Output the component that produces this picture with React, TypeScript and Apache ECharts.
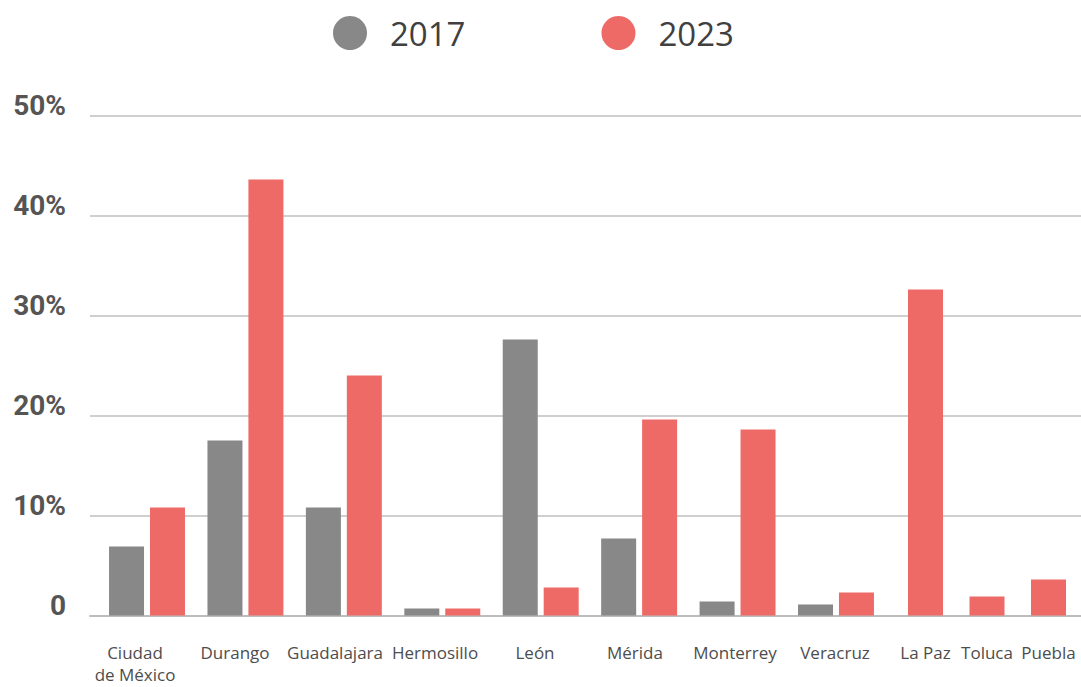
import React, { useEffect, useRef } from "react";
import * as echarts from "echarts";

const categories = [
  "Ciudad\nde México",
  "Durango",
  "Guadalajara",
  "Hermosillo",
  "León",
  "Mérida",
  "Monterrey",
  "Veracruz",
  "La Paz",
  "Toluca",
  "Puebla",
];
const values2017: (number | null)[] = [6.9, 17.5, 10.8, 0.7, 27.6, 7.7, 1.4, 1.1, null, null, null];
const values2023: number[] = [10.8, 43.6, 24.0, 0.7, 2.8, 19.6, 18.6, 2.3, 32.6, 1.9, 3.6];
const yTicks = [0, 10, 20, 30, 40, 50];
const seriesNames = ["2017", "2023"];

const GRAY = "#888888";
const RED = "#ee6a67";

export default function App() {
  const ref = useRef<HTMLDivElement>(null);
  useEffect(() => {
    if (!ref.current) return;
    document.body.style.margin = "0";
    document.body.style.overflow = "hidden";
    const chart = echarts.init(ref.current, undefined, { renderer: "svg" });
    const split = 8;
    const catA = categories.slice(0, split);
    const catB = categories.slice(split);
    const top = 115.5;
    const bottom = 71.5;
    const yMax = yTicks[yTicks.length - 1];
    const hiddenY = (gi: number) => ({
      gridIndex: gi,
      type: "value",
      min: 0,
      max: yMax,
      interval: 10,
      show: false,
      splitLine: { show: false },
    });
    const catLabel = {
      fontFamily: "Open Sans",
      fontSize: 17,
      color: "#4d4d4d",
      lineHeight: 22,
      margin: 26,
      interval: 0,
    };
    chart.setOption({
      animation: false,
      legend: {
        data: seriesNames,
        icon: "circle",
        left: 333,
        top: 16,
        padding: 0,
        itemWidth: 34,
        itemHeight: 34,
        itemGap: 136,
        textStyle: {
          fontFamily: "Open Sans",
          fontSize: 33,
          color: "#404040",
          padding: [0, 0, 0, 18],
        },
      },
      grid: [
        { left: 90, right: 0, top, bottom },
        { left: 97.8, width: 787.4, top, bottom },
        { left: 894.75, width: 184.5, top, bottom },
        { left: 85, width: 800, top, bottom },
      ],
      xAxis: [
        {
          gridIndex: 0,
          type: "category",
          data: [""],
          axisLabel: { show: false },
          axisTick: { show: false },
          axisLine: { show: true, lineStyle: { color: "#bdbdbd", width: 2 } },
        },
        {
          gridIndex: 1,
          type: "category",
          data: catA,
          show: false,
        },
        {
          gridIndex: 2,
          type: "category",
          data: catB,
          axisLine: { show: false },
          axisTick: { show: false },
          axisLabel: catLabel,
        },
        {
          gridIndex: 3,
          type: "category",
          data: catA,
          axisLine: { show: false },
          axisTick: { show: false },
          axisLabel: catLabel,
        },
      ],
      yAxis: [
        {
          gridIndex: 0,
          type: "value",
          min: 0,
          max: yMax,
          interval: 10,
          axisLine: { show: false },
          axisTick: { show: false },
          splitLine: { show: true, lineStyle: { color: "#cfcfcf", width: 2 } },
          axisLabel: {
            margin: 24,
            fontFamily: "Roboto",
            fontWeight: "bold",
            fontSize: 28,
            color: "#555555",
            verticalAlign: "bottom",
            lineHeight: 20,
            formatter: (v: number) => (v === 0 ? "0" : v + "%"),
          },
        },
        hiddenY(1),
        hiddenY(2),
        hiddenY(3),
      ],
      series: [
        {
          name: seriesNames[0],
          type: "bar",
          xAxisIndex: 1,
          yAxisIndex: 1,
          data: values2017.slice(0, split),
          barWidth: 35,
          barGap: "17%",
          itemStyle: { color: GRAY },
        },
        {
          name: seriesNames[1],
          type: "bar",
          xAxisIndex: 1,
          yAxisIndex: 1,
          data: values2023.slice(0, split),
          barWidth: 35,
          barGap: "17%",
          itemStyle: { color: RED },
        },
        {
          name: seriesNames[1],
          type: "bar",
          xAxisIndex: 2,
          yAxisIndex: 2,
          data: values2023.slice(split),
          barWidth: 35,
          itemStyle: { color: RED },
        },
      ],
    });
    return () => chart.dispose();
  }, []);
  return <div ref={ref} style={{ width: 1081, height: 687 }} />;
}
